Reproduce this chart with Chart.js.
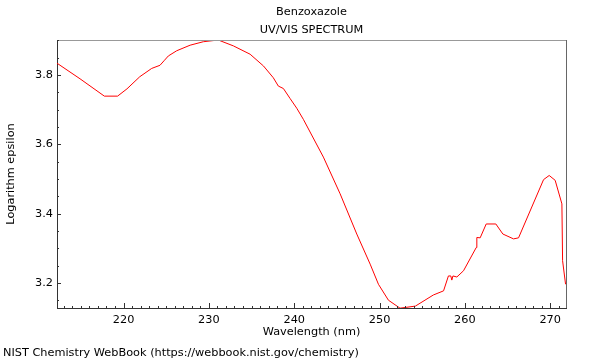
<!DOCTYPE html>
<html>
<head>
<meta charset="utf-8">
<script src="https://cdn.jsdelivr.net/npm/chart.js@4/dist/chart.umd.min.js"></script>
<style>
  html, body { margin: 0; padding: 0; background: #fff; }
  #wrap { width: 600px; height: 360px; }
</style>
</head>
<body>
<div id="wrap"><canvas id="spectrum"></canvas></div>
<script>
// Spectrum data
const wavelengths = [
  212.2, 214.9, 217.75, 219.3, 220.4, 221.9, 223.3, 224.27, 224.74, 225.25,
  226.23, 227.8, 229.35, 231.1, 232.87, 234.83, 236.4, 237.55, 238.14, 238.73,
  239.52, 240.3, 241.07, 243.42, 245.38, 247.33, 248.9, 249.87, 251.04, 252.4,
  254.2, 256.3, 257.5, 258.07, 258.35, 258.47, 258.6, 259.06, 259.84, 261.33,
  261.4, 261.79, 262.5, 263.63, 264.45, 265.7, 266.29, 269.22, 269.88, 270.58,
  271.37, 271.45, 271.8
];
const logEpsilon = [
  3.834, 3.789, 3.739, 3.739, 3.760, 3.795, 3.819, 3.828, 3.841, 3.855,
  3.870, 3.886, 3.896, 3.901, 3.884, 3.860, 3.826, 3.792, 3.768, 3.761,
  3.732, 3.704, 3.672, 3.563, 3.457, 3.341, 3.254, 3.196, 3.150, 3.127,
  3.133, 3.165, 3.177, 3.220, 3.220, 3.208, 3.220, 3.217, 3.235, 3.302,
  3.331, 3.330, 3.370, 3.370, 3.341, 3.327, 3.330, 3.498, 3.510, 3.496,
  3.428, 3.264, 3.196
];

// Tick labels
const xTickValues = [220, 230, 240, 250, 260, 270];
const yTickValues = [3.2, 3.4, 3.6, 3.8];

const titleLines = ['Benzoxazole', 'UV/VIS SPECTRUM'];
const footerText = 'NIST Chemistry WebBook (https://webbook.nist.gov/chemistry)';

const FONT_SIZE = 11.3;
const FONT = FONT_SIZE + 'px "DejaVu Sans", sans-serif';

// Frame, inward ticks and the surrounding texts
const decorPlugin = {
  id: 'decor',
  afterDraw(chart) {
    const { ctx, chartArea: a, scales } = chart;
    const xs = scales.x, ys = scales.y;
    ctx.save();
    ctx.lineWidth = 1;

    // top and right frame lines
    ctx.strokeStyle = '#999';
    ctx.beginPath();
    ctx.moveTo(a.left, a.top + 0.5);
    ctx.lineTo(a.right, a.top + 0.5);
    ctx.stroke();
    ctx.strokeStyle = '#666';
    ctx.beginPath();
    ctx.moveTo(a.right + 0.5, a.top);
    ctx.lineTo(a.right + 0.5, a.bottom);
    ctx.stroke();

    // ticks pointing into the plot
    ctx.strokeStyle = '#333';
    ctx.beginPath();
    for (let v = Math.ceil(xs.min); v <= xs.max; v++) {
      const px = Math.round(xs.getPixelForValue(v)) + 0.5;
      const len = v % 10 === 0 ? 5 : 2;
      ctx.moveTo(px, a.bottom);
      ctx.lineTo(px, a.bottom - len);
    }
    for (let i = Math.ceil(ys.min / 0.05 - 1e-6); i * 0.05 <= ys.max + 1e-9; i++) {
      const v = i * 0.05;
      const py = Math.round(ys.getPixelForValue(v)) + 0.5;
      const len = i % 4 === 0 ? 4 : 2;
      ctx.moveTo(a.left, py);
      ctx.lineTo(a.left + len, py);
    }
    ctx.stroke();

    // titles and footer
    ctx.fillStyle = '#000';
    ctx.font = FONT;
    ctx.textAlign = 'center';
    ctx.textBaseline = 'middle';
    const cx = (a.left + a.right) / 2;
    ctx.fillText(titleLines[0], cx, 12);
    ctx.fillText(titleLines[1], cx, 30);
    ctx.textAlign = 'left';
    ctx.fillText(footerText, 3, 353);
    ctx.restore();
  }
};

const axisFont = { family: 'DejaVu Sans', size: FONT_SIZE };

new Chart(document.getElementById('spectrum'), {
  type: 'line',
  data: {
    datasets: [{
      data: wavelengths.map((w, i) => ({ x: w, y: logEpsilon[i] })),
      borderColor: '#ff0000',
      borderWidth: 1,
      pointRadius: 0,
      tension: 0,
      fill: false
    }]
  },
  options: {
    responsive: true,
    maintainAspectRatio: false,
    animation: false,
    layout: { padding: { left: 0, top: 40, right: 34, bottom: 20 } },
    plugins: {
      legend: { display: false },
      tooltip: { enabled: false }
    },
    scales: {
      x: {
        type: 'linear',
        min: 212.2,
        max: 271.85,
        afterBuildTicks: s => { s.ticks = xTickValues.map(v => ({ value: v })); },
        afterFit: s => { s.height = 32; },
        grid: { display: false, drawTicks: false },
        border: { display: true, color: '#333' },
        ticks: { color: '#000', font: axisFont, padding: 5, maxRotation: 0, callback: v => String(v) },
        title: { display: true, text: 'Wavelength (nm)', color: '#000', font: axisFont, padding: { top: 0, bottom: 1 } }
      },
      y: {
        min: 3.1275,
        max: 3.901,
        afterBuildTicks: s => { s.ticks = yTickValues.map(v => ({ value: v })); },
        afterFit: s => { s.width = 57; },
        grid: { display: false, drawTicks: false },
        border: { display: true, color: '#333' },
        ticks: { color: '#000', font: axisFont, padding: 4, callback: v => v.toFixed(1) },
        title: { display: true, text: 'Logarithm epsilon', color: '#000', font: axisFont, padding: { top: 4, bottom: 0 } }
      }
    }
  },
  plugins: [decorPlugin]
});
</script>
</body>
</html>
